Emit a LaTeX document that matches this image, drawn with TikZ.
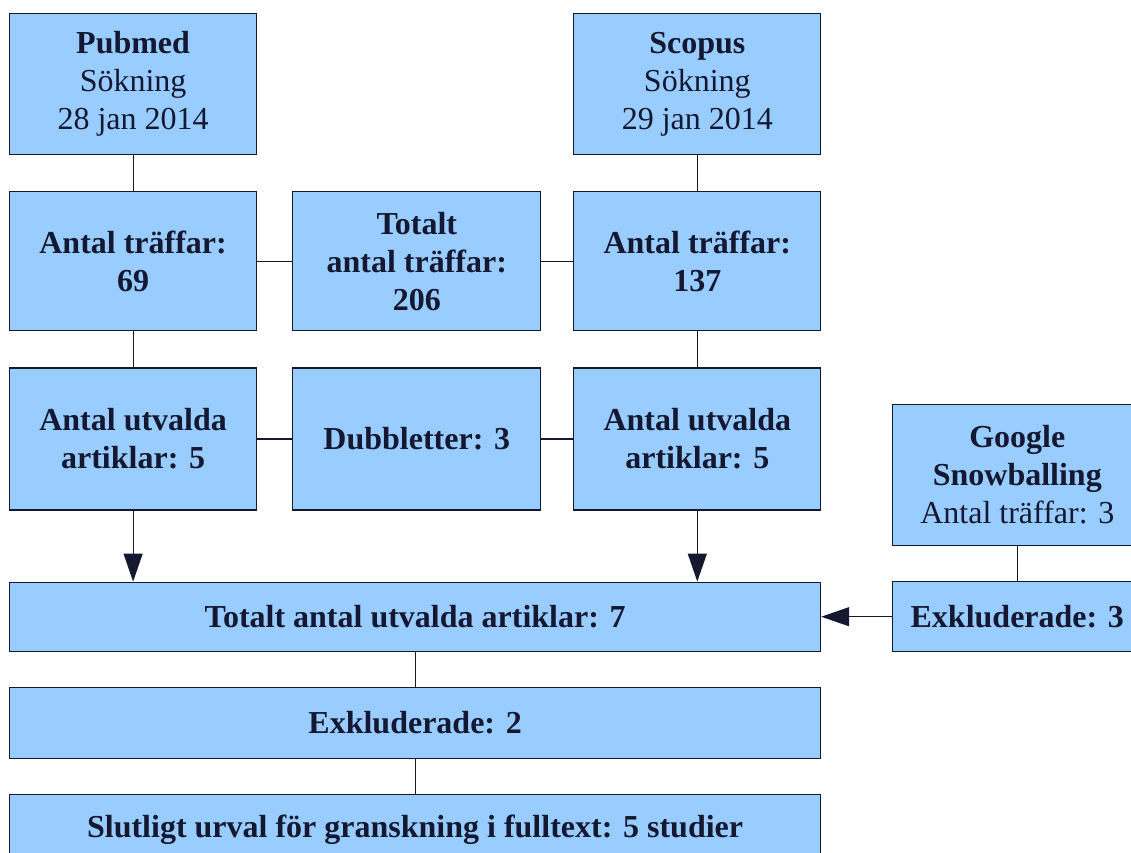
\documentclass[tikz,border=0pt]{standalone}
\usepackage{fontspec}
\setmainfont{Liberation Serif}
\usetikzlibrary{arrows.meta, positioning}
\definecolor{boxblue}{RGB}{153,204,255}
\definecolor{inkblue}{RGB}{20,24,48}

\begin{document}
\begin{tikzpicture}[node distance=36pt and 35pt,
        box/.style={rectangle, draw=inkblue, fill=boxblue, line width=1.2pt, align=center, text=inkblue, inner sep=0pt, font=\fontsize{32}{38}\selectfont},
        colbox/.style={box, minimum width=247pt},
        boldbox/.style={box, font=\fontsize{32}{38}\selectfont\bfseries},
        widebox/.style={boldbox, minimum width=811pt},
        link/.style={draw=inkblue, line width=1.2pt},
        arrow/.style={link, -{Triangle[length=28pt, width=19pt]}}]

    \useasboundingbox (0,0) rectangle (1131pt,-852pt);

    % Databases
    \node[colbox, minimum height=141pt, anchor=north west] (pubmed) at (9pt,-13pt) {\textbf{Pubmed}\\Sökning\\28 jan 2014};
    \node[colbox, minimum height=141pt, right=316pt of pubmed] (scopus) {\textbf{Scopus}\\Sökning\\29 jan 2014};

    % Hits
    \node[colbox, boldbox, minimum height=139pt, below=of pubmed] (hitspub) {Antal träffar:\\69};
    \node[colbox, boldbox, minimum height=139pt, below=of scopus] (hitsscop) {Antal träffar:\\137};
    \node[boldbox, minimum width=248pt, minimum height=139pt, right=35pt of hitspub] (hitstot) {Totalt\\antal träffar:\\206};

    % Selected
    \node[colbox, boldbox, minimum height=142pt, below=of hitspub] (selpub) {Antal utvalda\\artiklar: 5};
    \node[colbox, boldbox, minimum height=142pt, below=of hitsscop] (selscop) {Antal utvalda\\artiklar: 5};
    \node[boldbox, minimum width=248pt, minimum height=142pt, right=35pt of selpub] (dupl) {Dubbletter: 3};

    % Result chain
    \node[widebox, minimum height=69pt, below=71pt of selpub.south west, anchor=north west] (seltot) {Totalt antal utvalda artiklar: 7};
    \node[widebox, minimum height=71pt, below=35pt of seltot] (excl) {Exkluderade: 2};
    \node[widebox, minimum height=70pt, below=35pt of excl] (final) {Slutligt urval för granskning i fulltext: 5 studier};

    % Snowballing
    \node[boldbox, minimum width=249pt, minimum height=70pt, right=71pt of seltot] (exclgoogle) {Exkluderade: 3};
    \node[box, minimum width=249pt, minimum height=141pt, above=35pt of exclgoogle] (google) {\textbf{Google}\\\textbf{Snowballing}\\Antal träffar: 3};

    % Connections
    \draw[link] (pubmed) -- (hitspub);
    \draw[link] (hitspub) -- (selpub);
    \draw[link] (scopus) -- (hitsscop);
    \draw[link] (hitsscop) -- (selscop);
    \draw[link] (hitspub) -- (hitstot);
    \draw[link] (hitstot) -- (hitsscop);
    \draw[link] (selpub) -- (dupl);
    \draw[link] (dupl) -- (selscop);
    \draw[link] (google) -- (exclgoogle);
    \draw[link] (seltot) -- (excl);
    \draw[link] (excl) -- (final);

    % Arrows
    \draw[arrow] (selpub) -- (selpub |- seltot.north);
    \draw[arrow] (selscop) -- (selscop |- seltot.north);
    \draw[arrow] (exclgoogle) -- (seltot);

\end{tikzpicture}
\end{document}
